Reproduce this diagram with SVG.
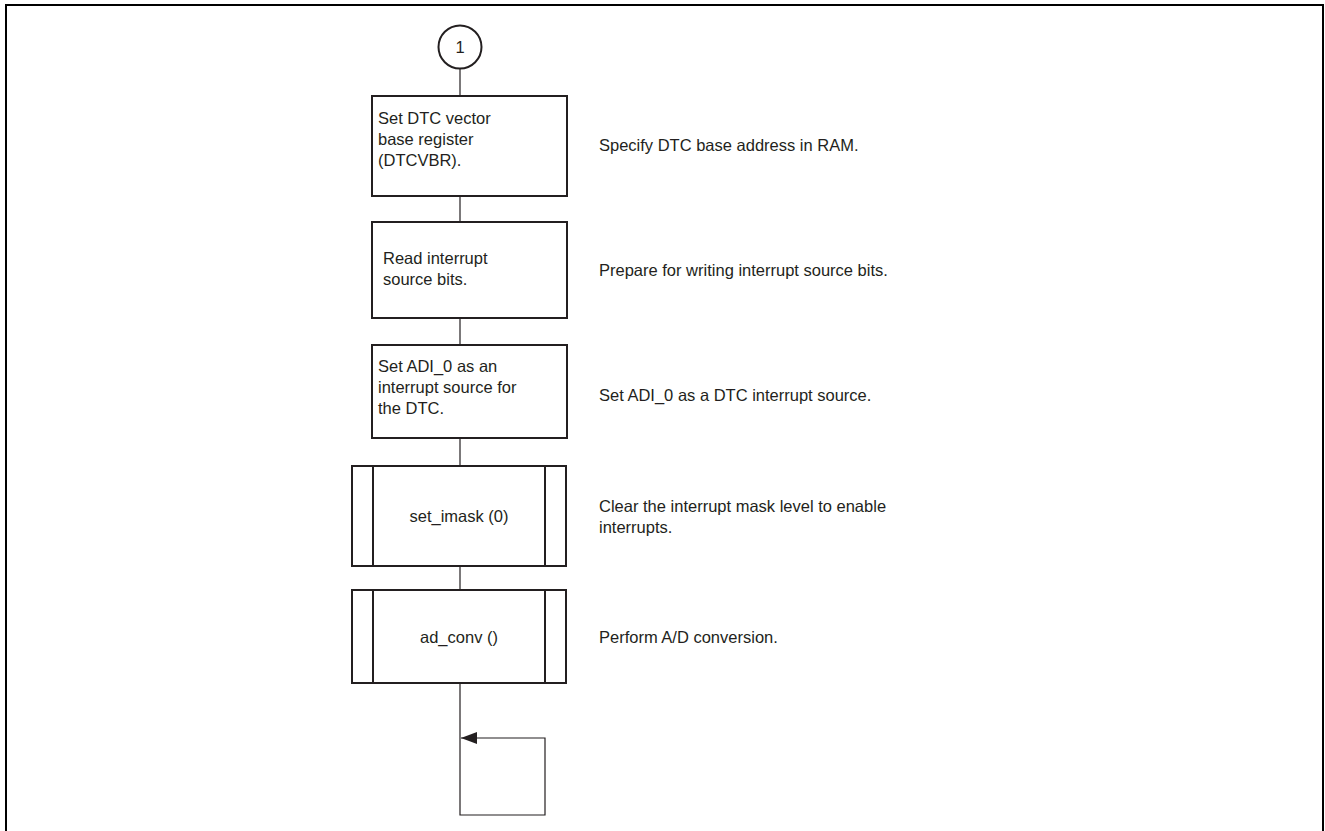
<svg xmlns="http://www.w3.org/2000/svg" width="1325" height="831" viewBox="0 0 1325 831">
<defs>
<style>
.box{fill:#fff;stroke:#231f20;stroke-width:2}
.ln{fill:none;stroke:#231f20;stroke-width:1.2}
text{font-family:"Liberation Sans",Arial,sans-serif;font-size:16.5px;fill:#231f20}
.c{text-anchor:middle}
</style>
<marker id="ah" markerWidth="16" markerHeight="12" refX="16" refY="6" orient="auto" markerUnits="userSpaceOnUse">
<path d="M0,0 L16,6 L0,12 Z" fill="#231f20"/>
</marker>
</defs>
<rect width="1325" height="831" fill="#fff"/>
<path d="M6,840 V5 H1323 V840" fill="none" stroke="#000" stroke-width="2"/>
<g id="connectors">
<line class="ln" x1="460" y1="69" x2="460" y2="96"/>
<line class="ln" x1="460" y1="196" x2="460" y2="222"/>
<line class="ln" x1="460" y1="318" x2="460" y2="345"/>
<line class="ln" x1="460" y1="438" x2="460" y2="466"/>
<line class="ln" x1="460" y1="566" x2="460" y2="590"/>
<path class="ln" d="M460,683 V815 H545 V738 H461" marker-end="url(#ah)"/>
</g>
<g id="start">
<circle cx="460" cy="47" r="21.5" fill="#fff" stroke="#231f20" stroke-width="2"/>
<text class="c" x="460" y="53">1</text>
</g>
<g id="n1">
<rect class="box" x="372" y="96" width="195" height="100"/>
<text x="378" y="124">Set DTC vector</text>
<text x="378" y="145">base register</text>
<text x="378" y="166">(DTCVBR).</text>
<text x="599" y="151">Specify DTC base address in RAM.</text>
</g>
<g id="n2">
<rect class="box" x="372" y="222" width="195" height="96"/>
<text x="383" y="264">Read interrupt</text>
<text x="383" y="285">source bits.</text>
<text x="599" y="276">Prepare for writing interrupt source bits.</text>
</g>
<g id="n3">
<rect class="box" x="372" y="345" width="195" height="93"/>
<text x="378" y="372">Set ADI_0 as an</text>
<text x="378" y="393">interrupt source for</text>
<text x="378" y="414">the DTC.</text>
<text x="599" y="401">Set ADI_0 as a DTC interrupt source.</text>
</g>
<g id="n4">
<rect class="box" x="352" y="466" width="214" height="100"/>
<line class="box" x1="373" y1="466" x2="373" y2="566"/>
<line class="box" x1="545" y1="466" x2="545" y2="566"/>
<text class="c" x="459" y="522">set_imask (0)</text>
<text x="599" y="512">Clear the interrupt mask level to enable</text>
<text x="599" y="533">interrupts.</text>
</g>
<g id="n5">
<rect class="box" x="352" y="590" width="214" height="93"/>
<line class="box" x1="373" y1="590" x2="373" y2="683"/>
<line class="box" x1="545" y1="590" x2="545" y2="683"/>
<text class="c" x="459" y="643">ad_conv ()</text>
<text x="599" y="643">Perform A/D conversion.</text>
</g>
</svg>
